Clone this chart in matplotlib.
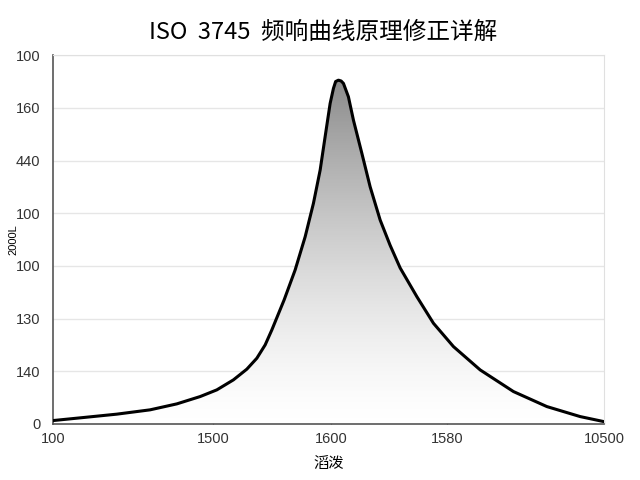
import numpy as np
import matplotlib
matplotlib.use('Agg')
import matplotlib.pyplot as plt
from matplotlib.patches import Polygon

plt.rcParams['font.family'] = ['Noto Sans CJK SC', 'DejaVu Sans']

# curve (axis units: x 0..100, y 0..7)
curve_x = [0.05, 5.50, 11.56, 17.60, 22.45, 26.68, 29.71, 32.72, 35.15, 36.97,
           38.48, 39.69, 41.92, 43.92, 45.74, 47.24, 48.46, 49.36, 50.27, 50.87,
           51.27, 51.78, 52.27, 52.69, 53.59, 54.50, 56.03, 57.53, 59.35, 61.16,
           62.98, 66.01, 69.02, 72.65, 77.50, 83.54, 89.60, 95.64, 99.87]
curve_y = [0.063, 0.120, 0.184, 0.266, 0.379, 0.518, 0.645, 0.835, 1.038, 1.246,
           1.499, 1.783, 2.353, 2.922, 3.553, 4.187, 4.819, 5.451, 6.084, 6.369,
           6.500, 6.526, 6.510, 6.464, 6.210, 5.767, 5.136, 4.502, 3.870, 3.390,
           2.960, 2.415, 1.910, 1.467, 1.024, 0.613, 0.328, 0.138, 0.044]

x_tick_pos = [0, 29.0, 50.5, 71.5, 100]
x_tick_labels = ['100', '1500', '1600', '1580', '10500']
y_tick_pos = [0, 1, 2, 3, 4, 5, 6, 7]
y_tick_labels = ['0', '140', '130', '100', '100', '440', '160', '100']

fig = plt.figure(figsize=(6.4, 4.8), dpi=100)
ax = fig.add_axes([0.083, 0.117, 0.861, 0.768])
ax.set_xlim(0, 100)
ax.set_ylim(0, 7)

# gradient fill under the curve
grad = np.linspace(0, 1, 256).reshape(-1, 1) ** 1.4
img = ax.imshow(grad, extent=[0, 100, 0, 6.6], origin='lower', aspect='auto',
                cmap=matplotlib.colors.LinearSegmentedColormap.from_list(
                    'g', ['#ffffff', '#8a8a8a']), zorder=1)
poly = Polygon(list(zip(curve_x, curve_y)) + [(curve_x[-1], 0), (curve_x[0], 0)],
               closed=True, facecolor='none', edgecolor='none')
ax.add_patch(poly)
img.set_clip_path(poly)

ax.plot(curve_x, curve_y, color='black', lw=2.2, zorder=3,
        solid_joinstyle='round', solid_capstyle='round')

ax.set_yticks(y_tick_pos)
ax.set_yticklabels(y_tick_labels, family='Liberation Sans')
ax.set_xticks(x_tick_pos)
ax.set_xticklabels(x_tick_labels, family='Liberation Sans')
ax.grid(axis='y', color='#e6e6e6', lw=1)
ax.set_axisbelow(True)
ax.tick_params(axis='both', labelsize=10.5, colors='#333333', length=3, direction='in')
ax.tick_params(axis='x', pad=6)
ax.tick_params(axis='y', length=0, pad=9)

for s in ['top', 'right']:
    ax.spines[s].set_color('#e0e0e0')
for s in ['left', 'bottom']:
    ax.spines[s].set_color('#555555')
    ax.spines[s].set_linewidth(1.2)

ax.set_xlabel('滔泼', fontsize=11, labelpad=6)
ax.set_ylabel('2000L', fontsize=8, labelpad=-2, family='Liberation Sans')
ax.set_title('ISO  3745  频响曲线原理修正详解', fontsize=17, pad=12, x=0.49)

fig.savefig('out.png', dpi=100)
